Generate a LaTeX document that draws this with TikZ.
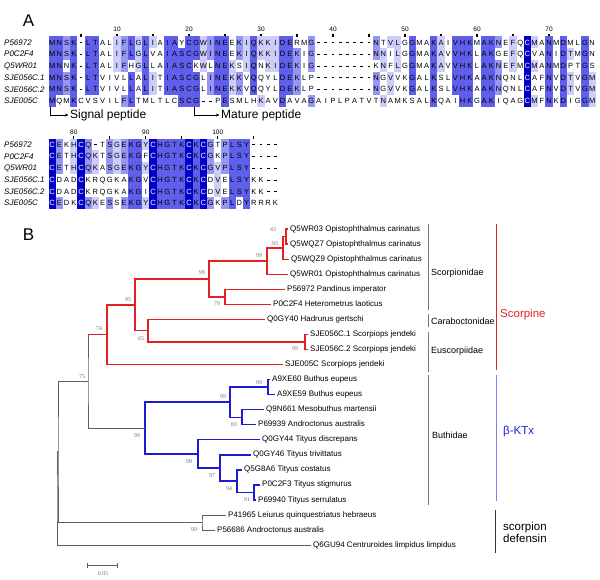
\documentclass[tikz,border=0pt]{standalone}
\usepackage{fontspec}
\setmainfont{Liberation Sans}
\newfontfamily\bsfont{Liberation Serif}
\usepackage{xstring}
\usetikzlibrary{arrows.meta, calc}

\definecolor{pidlt}{RGB}{205,205,250}
\definecolor{pidmd}{RGB}{150,150,245}
\definecolor{piddk}{RGB}{95,95,235}
\definecolor{pidcys}{RGB}{0,0,200}
\definecolor{scpred}{RGB}{228,32,36}
\definecolor{ktxblue}{RGB}{28,28,210}
\definecolor{ktxline}{RGB}{130,130,230}
\definecolor{treegray}{RGB}{95,95,95}
\definecolor{bsgray}{RGB}{110,110,110}
\definecolor{famgray}{RGB}{120,120,120}

% one alignment row: id, y, residues, shading codes (0 none .. 4 cysteine)
\newcommand{\alnrow}[4]{%
  \StrLen{#3}[\alnlen]%
  \foreach \i in {1,...,\alnlen}{%
    \StrChar{#3}{\i}[\aares]%
    \StrChar{#4}{\i}[\aacode]%
    \pgfmathsetmacro{\cx}{52.2+(\i-1)*7.2}%
    \ifcase\aacode\relax\def\aafill{white}\or\def\aafill{pidlt}\or\def\aafill{pidmd}\or\def\aafill{piddk}\or\def\aafill{pidcys}\fi
    \ifnum\aacode>0
      \fill[fill=\aafill] (\cx-3.65, #2-5.9) rectangle ++(7.3, 11.8);
    \fi
    \ifnum\aacode=4 \def\aacol{white}\else\def\aacol{black}\fi
    \if-\aares \def\aatxt{\rule[2pt]{2.8pt}{0.75pt}}\else\let\aatxt\aares\fi
    \node[res, text=\aacol] (#1-\i) at (\cx, #2+2.7) {\aatxt};
  }%
}

% internal tree node: name, x, upper child, lower child
\newcommand{\treenode}[4]{%
  \path let \p1=(#3), \p2=(#4) in coordinate (#1) at (#2pt, {0.5*\y1+0.5*\y2});
}

\begin{document}
\begin{tikzpicture}[x=1pt, y=-1pt,
  res/.style={anchor=base, inner sep=0pt, font=\fontsize{7.5}{8}\selectfont},
  seqname/.style={anchor=base west, inner sep=0pt, font=\fontsize{8}{9}\selectfont\itshape},
  ruler/.style={anchor=base, inner sep=0pt, font=\fontsize{6.5}{7}\selectfont},
  rulertick/.style={line width=1.1pt},
  region/.style={line width=0.6pt, -{Stealth[length=3.5pt, width=3pt]}},
  regiontext/.style={anchor=west, inner sep=1.5pt, font=\fontsize{12}{13}\selectfont},
  panel/.style={inner sep=0pt, font=\fontsize{17}{18}\selectfont},
  leaf/.style={anchor=west, inner sep=0pt, xshift=2pt, text height=5.8pt, text depth=1.6pt, font=\fontsize{8}{9}\selectfont},
  bs/.style={inner sep=0pt, text=bsgray, font=\bsfont\fontsize{5.8}{6}\selectfont},
  scp/.style={scpred, line width=1.5pt},
  ktx/.style={ktxblue, line width=1.4pt},
  outgrp/.style={treegray, line width=0.9pt},
  fam/.style={famgray, line width=0.8pt},
  famtext/.style={anchor=west, inner sep=0pt, font=\fontsize{9}{10}\selectfont},
  grouptext/.style={anchor=west, inner sep=0pt, align=left, font=\fontsize{11.5}{10}\selectfont}
]
\useasboundingbox (0,0) rectangle (600,579);

% ===== PANEL A: alignment =====
\node[panel] (pa) at (28.5,21) {A};

% Sequence names
\foreach \k/\nm in {1/P56972, 2/P0C2F4, 3/Q5WR01, 4/SJE056C.1, 5/SJE056C.2, 6/SJE005C} {
  \node[seqname] (na\k) at (4, {42.3+11.7*(\k-1)+2.9}) {\nm};
  \node[seqname] (nb\k) at (4, {144.5+11.7*(\k-1)+2.9}) {\nm};
}

% Rulers
\foreach \v in {10,20,...,70}
  \node[ruler] (ra\v) at ({52.2+(\v-1)*7.2}, 31.5) {\v};
\foreach \v in {5,10,...,70}
  \draw[rulertick] ({52.2+(\v-1)*7.2}, 33.5) -- ++(0,3);
\foreach \v in {80,90,100}
  \node[ruler] (rb\v) at ({52.2+(\v-77)*7.2}, 134) {\v};
\foreach \v in {80,85,...,105}
  \draw[rulertick] ({52.2+(\v-77)*7.2}, 136) -- ++(0,3);

% Block 1 (columns 1-76)
\alnrow{a1}{42.3}{MNSK-LTALIFLGLIAIAYCGWINEEKIQKKIDERMG--------NTVLGGMAKAIVHKMAKNEFQCMANMDMLGN}{3323033001231310330331233021311133002000000002011030031033303320104103030030}
\alnrow{a2}{54.0}{MNSK-LTALIFLGLVAIASCGWINEEKIQKKIDEKIG--------NNILGGMAKAVVHKLAKGEFQCVANIDTMGN}{3323033001231300333331233021311133202000000002101030031033303300104003031030}
\alnrow{a3}{65.7}{MNNK-LTALIFHGLLAIASCKWLNEKSIQNKIDEKIG--------KNFLGGMAKAVVHKLAKNEFMCMANMDPTGS}{3303033001201300333301033101301133202000000000101030031033303320104103030030}
\alnrow{a4}{77.4}{MNSK-LTVIVLLALITIASCGLINEKKVQQYLDEKLP--------NGVVKGALKSLVHKAAKNQNLCAFNVDTVGM}{3323033000030310333330233120300033200000000002010030030033303320004003031031}
\alnrow{a5}{89.1}{MNSK-LTVIVLLALITIASCGLINEKKVQQYLDEKLP--------NGVVKGALKSLVHKAAKNQNLCAFNVDTVGM}{3323033000030310333330233120300033200000000002010030030033303320004003031031}
\alnrow{a6}{100.8}{MQMKCVSVILFLTMLTLCSCG--PESMLHKAVDAVAGAIPLPATVTNAMKSALKQAIHKGAKIQAGCMFNKDIGGM}{3003000000230000003330003000010030002000000000100000030003303300004103030031}

% Block 2 (columns 77-108)
\alnrow{b1}{144.5}{CEKHCQ-TSGEKGYCHGTKCKCGTPLSY----}{42014200212331433334342023330000}
\alnrow{b2}{156.2}{CETHCQKTSGEKGFCHGTKCKCGKPLSY----}{42014210212330433334342023330000}
\alnrow{b3}{167.9}{CETHCQKASGEKGYCHGTKCKCGVPLSY----}{42014210212331433334342123330000}
\alnrow{b4}{179.6}{CDADCKRQGKAKGVCHGTKCKCDVELSYKK--}{40004000000330433334340103330000}
\alnrow{b5}{191.3}{CDADCKRQGKAKGICHGTKCKCDVELSYKK--}{40004000000330433334340103330000}
\alnrow{b6}{203.0}{CEDKCQKESSEKGYCHGTKCKCGKPLDYRRRK}{42004210202331433334342023030000}

% Peptide regions
\coordinate (sigtop) at (50.5,106.5);
\coordinate (mattop) at (194.5,106.5);
\node[regiontext] (sig) at (68.5,115) {Signal peptide};
\node[regiontext] (mat) at (219.5,115) {Mature peptide};
\draw[region] (sigtop) |- (sig.west);
\draw[region] (mattop) |- (mat.west);

% ===== PANEL B: tree =====
\node[panel] (pb) at (28.5,235) {B};

% Leaves
\foreach \k/\tx/\lab in {
  1/288/Q5WR03 Opistophthalmus carinatus,
  2/288/Q5WQZ7 Opistophthalmus carinatus,
  3/289/Q5WQZ9 Opistophthalmus carinatus,
  4/288/Q5WR01 Opistophthalmus carinatus,
  5/285/P56972 Pandinus imperator,
  6/271/P0C2F4 Heterometrus laoticus,
  7/265/Q0GY40 Hadrurus gertschi,
  8/308/SJE056C.1 Scorpiops jendeki,
  9/308/SJE056C.2 Scorpiops jendeki,
  10/283/SJE005C Scorpiops jendeki,
  11/270/A9XE60 Buthus eupeus,
  12/275/A9XE59 Buthus eupeus,
  13/264/Q9N661 Mesobuthus martensii,
  14/256/P69939 Androctonus australis,
  15/260/Q0GY44 Tityus discrepans,
  16/251/Q0GY46 Tityus trivittatus,
  17/242/Q5G8A6 Tityus costatus,
  18/260/P0C2F3 Tityus stigmurus,
  19/256/P69940 Tityus serrulatus,
  20/226/P41965 Leiurus quinquestriatus hebraeus,
  21/215/P56686 Androctonus australis,
  22/311/Q6GU94 Centruroides limpidus limpidus} {
  \coordinate (t\k) at (\tx, {229.2+15.04*(\k-1)});
  \node[leaf] (L\k) at (t\k) {\lab};
}

% Internal nodes
\treenode{n43}{286}{t1}{t2}
\treenode{n93}{283}{n43}{t3}
\treenode{n99a}{267}{n93}{t4}
\treenode{n79}{225}{t5}{t6}
\treenode{n99b}{209}{n99a}{n79}
\treenode{n99c}{305}{t8}{t9}
\treenode{n65}{148}{t7}{n99c}
\treenode{n95}{135}{n99b}{n65}
\treenode{n74}{107}{n95}{t10}
\treenode{n99d}{268}{t11}{t12}
\treenode{n83}{242}{t13}{t14}
\treenode{n99e}{230}{n99d}{n83}
\treenode{n91}{254}{t18}{t19}
\treenode{n94}{237}{t17}{n91}
\treenode{n97}{220}{t16}{n94}
\treenode{n99f}{198}{t15}{n97}
\treenode{n99g}{145}{n99e}{n99f}
\treenode{n75}{88}{n74}{n99g}
\treenode{n99h}{202}{t20}{t21}
\treenode{nA}{58}{n75}{n99h}
\treenode{root}{57}{nA}{t22}

% Scorpine branches
\draw[scp] (t1) -| (n43) |- (t2);
\draw[scp] (n43) -| (n93) |- (t3);
\draw[scp] (n93) -| (n99a) |- (t4);
\draw[scp] (t5) -| (n79) |- (t6);
\draw[scp] (n99a) -| (n99b) |- (n79);
\draw[scp] (t8) -| (n99c) |- (t9);
\draw[scp] (t7) -| (n65) |- (n99c);
\draw[scp] (n99b) -| (n95) |- (n65);
\draw[scp] (n95) -| (n74) |- (t10);

% beta-KTx branches
\draw[ktx] (t11) -| (n99d) |- (t12);
\draw[ktx] (t13) -| (n83) |- (t14);
\draw[ktx] (n99d) -| (n99e) |- (n83);
\draw[ktx] (t18) -| (n91) |- (t19);
\draw[ktx] (t17) -| (n94) |- (n91);
\draw[ktx] (t16) -| (n97) |- (n94);
\draw[ktx] (t15) -| (n99f) |- (n97);
\draw[ktx] (n99e) -| (n99g) |- (n99f);

% Outgroup branches
\draw[outgrp] (n74) -| (n75) |- (n99g);
\draw[scp] (n75 |- n74) -- (n74);
\draw[outgrp] (t20) -| (n99h) |- (t21);
\draw[outgrp] (n75) -| (nA) |- (n99h);
\draw[outgrp] (nA) -| (root) |- (t22);

% Bootstrap values
\foreach \nm/\bx/\by/\val in {b43/273/230/43, b93/275/244/93, b99a/259/256/99,
  b99b/202/273/99, b79/217/304/79, b95/128/300/95, b65/141/339/65, b99c/295/349/99,
  b74/99/329/74, b75/82/377/75, b99d/259/383/99, b99e/223/397/99, b83/234/425/83,
  b99g/137/436/99, b99f/189/462/99, b97/212/476/97, b94/229/489/94, b91/247/500/91,
  b99h/194/530/99}
  \node[bs] (\nm) at (\bx,\by) {\val};

% Scale bar
\coordinate (sbl) at (87,565.7);
\coordinate (sbr) at (118,565.7);
\draw[treegray, line width=0.8pt, {Bar[width=5pt]}-{Bar[width=5pt]}] (sbl) -- (sbr);
\node[bs] (sblab) at (103,574) {0.05};

% Families
\coordinate (f1a) at (428,224); \coordinate (f1b) at (428,310);
\coordinate (f2a) at (428,314); \coordinate (f2b) at (428,327);
\coordinate (f3a) at (428,332); \coordinate (f3b) at (428,372);
\coordinate (f4a) at (428,375); \coordinate (f4b) at (428,505);
\draw[fam] (f1a) -- (f1b);
\draw[fam] (f2a) -- (f2b);
\draw[fam] (f3a) -- (f3b);
\draw[fam] (f4a) -- (f4b);
\node[famtext] (fscorp) at (431,273) {Scorpionidae};
\node[famtext] (fcarab) at (431,321) {Caraboctonidae};
\node[famtext] (feusc) at (431,350.7) {Euscorpiidae};
\node[famtext] (fbuth) at (432,435) {Buthidae};

% Toxin groups
\coordinate (g1a) at (496,224); \coordinate (g1b) at (496,370);
\coordinate (g2a) at (496,375); \coordinate (g2b) at (496,501);
\coordinate (g3a) at (495,510); \coordinate (g3b) at (495,553);
\draw[scpred, line width=0.9pt] (g1a) -- (g1b);
\draw[ktxline, line width=0.9pt] (g2a) -- (g2b);
\draw[black!80, line width=0.9pt] (g3a) -- (g3b);
\node[grouptext, text=scpred] (gscp) at (500,315) {Scorpine};
\node[grouptext, text=ktxblue] (gktx) at (503,432) {β-KTx};
\node[grouptext] (gdef) at (503,532.7) {scorpion\\defensin};

\end{tikzpicture}
\end{document}
